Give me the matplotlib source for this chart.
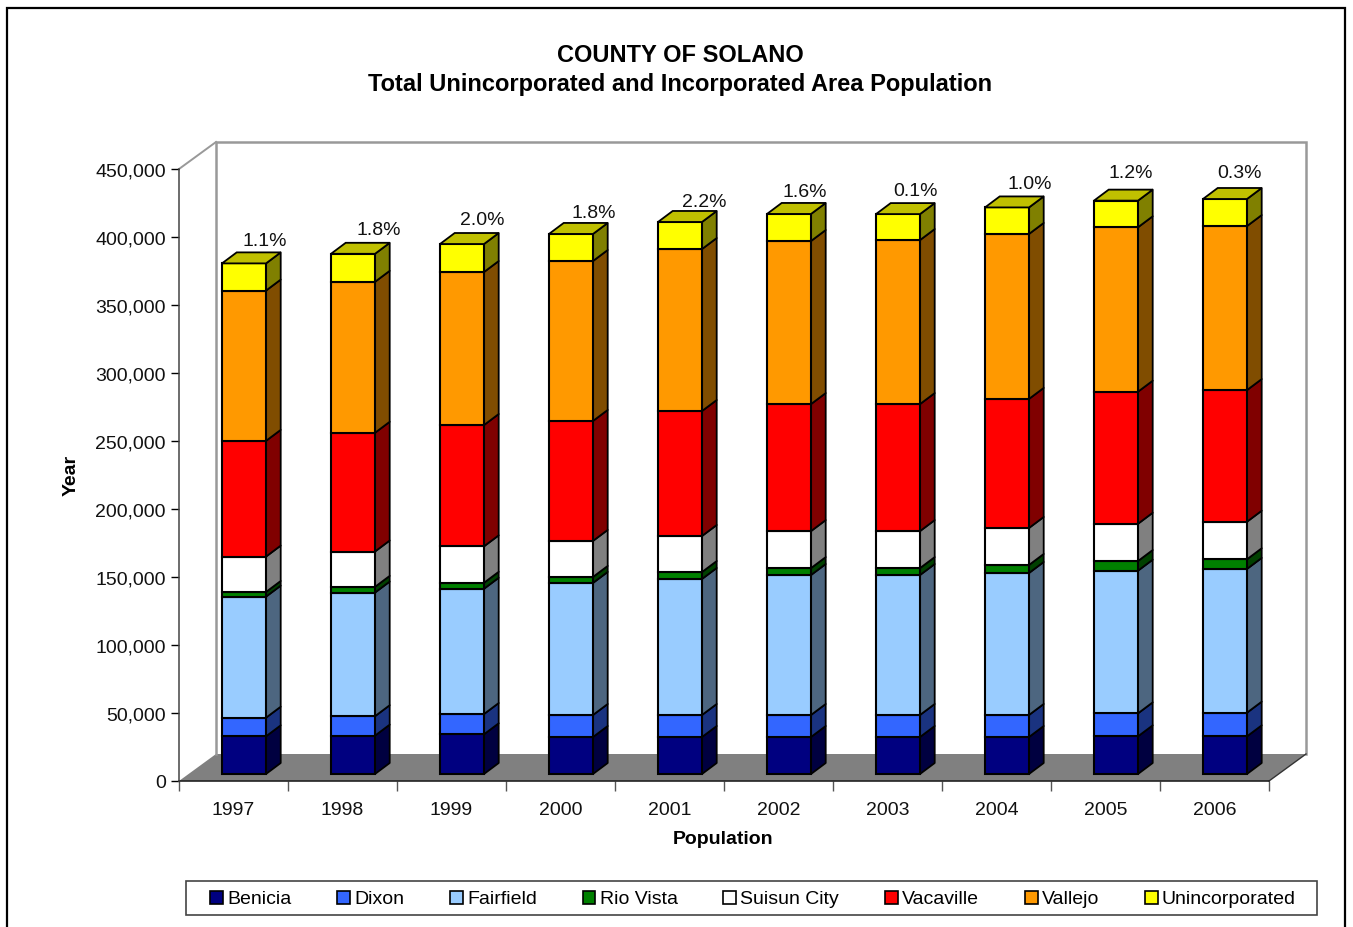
import matplotlib
matplotlib.use('Agg')
import matplotlib.pyplot as plt
from matplotlib.patches import Patch, Rectangle
from matplotlib.transforms import ScaledTranslation

plt.rcParams['font.family'] = ['Liberation Sans', 'DejaVu Sans']

years = ['1997', '1998', '1999', '2000', '2001', '2002', '2003', '2004', '2005', '2006']
benicia = [27700, 28200, 29200, 27200, 27200, 27200, 27200, 27200, 27700, 27700]
dixon = [13700, 14300, 14900, 16200, 16200, 16200, 16200, 16200, 16900, 17400]
fairfield = [89000, 90900, 92100, 97100, 100000, 102900, 102900, 104400, 104900, 105700]
rio_vista = [3450, 4200, 4400, 4400, 5100, 5100, 5100, 5900, 7100, 7100]
suisun = [26000, 26000, 26800, 26500, 26500, 27200, 27200, 27200, 27400, 27600]
vacaville = [85100, 87300, 89200, 88200, 91900, 93400, 93400, 94900, 97100, 96800]
vallejo = [110500, 111000, 112500, 117600, 119100, 119900, 120600, 121300, 120900, 120600]
unincorporated = [20000, 20600, 20600, 19900, 19900, 19900, 19100, 19500, 19600, 19900]
growth = ['1.1%', '1.8%', '2.0%', '1.8%', '2.2%', '1.6%', '0.1%', '1.0%', '1.2%', '0.3%']

series = [benicia, dixon, fairfield, rio_vista, suisun, vacaville, vallejo, unincorporated]
names = ['Benicia', 'Dixon', 'Fairfield', 'Rio Vista', 'Suisun City', 'Vacaville', 'Vallejo', 'Unincorporated']
colors = ['#000080', '#3366FF', '#99CCFF', '#008000', '#FFFFFF', '#FF0000', '#FF9900', '#FFFF00']
sides = ['#000040', '#1A3380', '#4D6680', '#004000', '#808080', '#800000', '#804D00', '#808000']
top_color = '#C0C000'

W, H = 1353, 927
fig = plt.figure(figsize=(W / 100, H / 100), dpi=100)
ax = fig.add_axes([179 / W, 1 - 781 / H, 1090 / W, 612 / H], facecolor='none')
ax.set_xlim(0, 10)
ax.set_ylim(0, 450000)

# pixel sizes turned into data units
px_x = 10 / 1090
px_y = 450000 / 612
wall_dx, wall_dy = 37 * px_x, 27 * px_y
bar_dx, bar_dy = 14.7 * px_x, 11 * px_y
bar_lift = 7 * px_y
bar_w = 44 * px_x
bar_off = 43 * px_x

# floor and walls
ax.fill([0, wall_dx, 10 + wall_dx, 10], [0, wall_dy, wall_dy, 0], color='#808080', lw=0, clip_on=False, zorder=1)
ax.plot([wall_dx, wall_dx, 10 + wall_dx, 10 + wall_dx], [wall_dy, 450000 + wall_dy, 450000 + wall_dy, wall_dy],
        color='#999999', lw=1.8, clip_on=False, zorder=1, solid_joinstyle='miter')
ax.plot([0, wall_dx], [450000, 450000 + wall_dy], color='#999999', lw=1.4, clip_on=False, zorder=1)
ax.plot([10, 10 + wall_dx], [0, wall_dy], color='#333333', lw=1, clip_on=False, zorder=1)

# bars
for i in range(len(years)):
    base = bar_lift
    x0 = i + bar_off
    x1 = x0 + bar_w
    for vals, c, s in zip(series, colors, sides):
        top = base + vals[i]
        ax.fill([x1, x1 + bar_dx, x1 + bar_dx, x1], [base, base + bar_dy, top + bar_dy, top],
                facecolor=s, edgecolor='black', lw=1.3, clip_on=False, zorder=3, joinstyle='round')
        ax.bar(x0, vals[i], bar_w, bottom=base, align='edge', color=c, edgecolor='black', lw=1.5,
               clip_on=False, zorder=3)
        base = top
    ax.fill([x0, x1, x1 + bar_dx, x0 + bar_dx], [base, base, base + bar_dy, base + bar_dy],
            facecolor=top_color, edgecolor='black', lw=1.3, clip_on=False, zorder=3)

# growth labels sit above and to the right of each stack
label_dx = [21, 26, 20, 23, 24, 16, 18, 23, 15, 15]
label_dy = [22, 23, 24, 20.5, 19.5, 21.5, 22.5, 22.5, 27, 25.5]
for i, txt in enumerate(growth):
    total = sum(vals[i] for vals in series)
    ax.text(i + bar_off + bar_w / 2 + label_dx[i] * px_x, total + bar_lift + label_dy[i] * px_y, txt,
            ha='center', va='center', fontsize=14, color='#111111', zorder=4, clip_on=False)

# axes
for side in ['top', 'right']:
    ax.spines[side].set_visible(False)
ax.spines['left'].set_color('#444444')
ax.spines['left'].set_linewidth(1.1)
ax.spines['bottom'].set_color('#222222')
ax.spines['bottom'].set_linewidth(1.2)
ax.spines['bottom'].set_zorder(2)

ax.set_yticks(range(0, 450001, 50000))
ax.set_yticklabels([f'{v:,}' for v in range(0, 450001, 50000)])
ax.tick_params(axis='y', length=6, width=1, labelsize=14, pad=3.5, color='black', labelcolor='#111111')
nudge = ScaledTranslation(0, -1 / 100, fig.dpi_scale_trans)
for lab in ax.get_yticklabels():
    lab.set_transform(lab.get_transform() + nudge)
ax.set_xticks(range(0, 11))
ax.set_xticklabels([])
ax.tick_params(axis='x', which='major', length=7.5, width=1, color='#555555')
ax.set_xticks([i + 0.5 for i in range(10)], minor=True)
ax.set_xticklabels(years, minor=True)
ax.tick_params(axis='x', which='minor', length=0, labelsize=14, pad=15, labelcolor='#111111')

fig.text(680 / W, 1 - 56 / H, 'COUNTY OF SOLANO', ha='center', va='center', fontsize=17, fontweight='bold')
fig.text(680 / W, 1 - 85 / H, 'Total Unincorporated and Incorporated Area Population', ha='center', va='center',
         fontsize=17, fontweight='bold')
fig.text(723.5 / W, 1 - 839 / H, 'Population', ha='center', va='center', fontsize=14, fontweight='bold')
fig.text(71 / W, 1 - 475.5 / H, 'Year', ha='center', va='center', rotation=90, fontsize=14, fontweight='bold')

# outer frame runs off the bottom of the picture
fig.add_artist(Rectangle((7 / W, -0.05), (1345 - 7) / W, 1.05 - 8 / H, transform=fig.transFigure,
                         fill=False, edgecolor='black', lw=1.6))

# legend box is wider than the entries, so it is drawn apart from them
fig.add_artist(Rectangle((186 / W, 1 - 915 / H), (1317 - 186) / W, 34 / H, transform=fig.transFigure,
                         facecolor='white', edgecolor='#444444', lw=1.2))
handles = [Patch(facecolor=c, edgecolor='black', lw=1.2) for c in colors]
fig.legend(handles, names, ncol=8, loc='center', bbox_to_anchor=(753 / W, 1 - 899.5 / H), fontsize=14,
           frameon=False, handlelength=0.66, handleheight=0.66, handletextpad=0.22, columnspacing=2.35,
           borderpad=0, borderaxespad=0)

fig.savefig('out.png', dpi=100)
